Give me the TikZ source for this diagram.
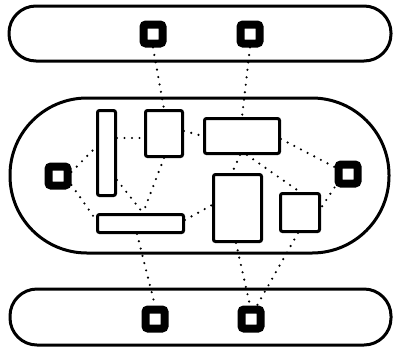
\documentclass[tikz,border=0pt]{standalone}
\usetikzlibrary{calc}
\tikzset{
  capsule/.style={draw=black, line width=3pt},
  blk/.style={draw=black, line width=3pt, rounded corners=2pt, inner sep=0pt, outer sep=1.5pt},
  port/.style={draw=black, fill=white, line width=8pt, rounded corners=2.5pt, inner sep=0pt, minimum size=19pt, outer sep=4pt},
  link/.style={line width=2.4pt, line cap=round, dash pattern=on 0pt off 7.5pt}
}
\begin{document}
\begin{tikzpicture}[x=1pt, y=-1pt]
\useasboundingbox (0,0) rectangle (393,349);
% capsules
\draw[capsule, rounded corners=27pt] (9,6) rectangle (391,61);
\draw[capsule, rounded corners=77pt] (10,98) rectangle (389,253);
\draw[capsule, rounded corners=27pt] (10,289) rectangle (391,345);
% ports
\node[port] (T1) at (153,34) {};
\node[port] (T2) at (250,34) {};
\node[port] (L) at (58,176) {};
\node[port] (R) at (348,174) {};
\node[port] (B1) at (155,319) {};
\node[port] (B2) at (251,319) {};
% blocks
\node[blk, minimum width=18pt, minimum height=85pt] (A) at (106.5,153) {};
\node[blk, minimum width=37pt, minimum height=46pt] (B) at (164,133.5) {};
\node[blk, minimum width=86pt, minimum height=18pt] (C) at (140.5,223.5) {};
\node[blk, minimum width=75pt, minimum height=35pt] (D) at (242,136) {};
\node[blk, minimum width=48pt, minimum height=67pt] (E) at (237.5,208) {};
\node[blk, minimum width=39pt, minimum height=38pt] (F) at (300,212.5) {};
% dotted links
\draw[link] (T1.south) -- (B.north);
\draw[link] (T2.south) -- (D.north);
\draw[link] (A.east |- 0,138) -- (B.west |- 0,138);
\draw[link] (L.east |- 0,172) -- (A.west |- 0,147);
\draw[link] (L.east |- 0,185) -- (C.west |- 0,220);
\draw[link] (A.east |- 0,180) -- (C.north -| 143,0);
\draw[link] (B.south) -- (C.north -| 143,0);
\draw[link] (B.east |- 0,131) -- (D.west |- 0,136);
\draw[link] (C.east |- 0,220) -- (E.west |- 0,205);
\draw[link] (C.south -| 137,0) -- (B1.north);
\draw[link] (D.south -| 240,0) -- (E.north -| 232,0);
\draw[link] (D.south -| 247,0) -- (F.north);
\draw[link] (D.east |- 0,139) -- (R.west |- 0,167);
\draw[link] (R.south west) -- (F.east |- 0,208);
\draw[link] (F.south -| 298,0) -- (B2.north -| 257,0);
\draw[link] (E.south -| 236,0) -- (B2.north -| 250,0);
\end{tikzpicture}
\end{document}
